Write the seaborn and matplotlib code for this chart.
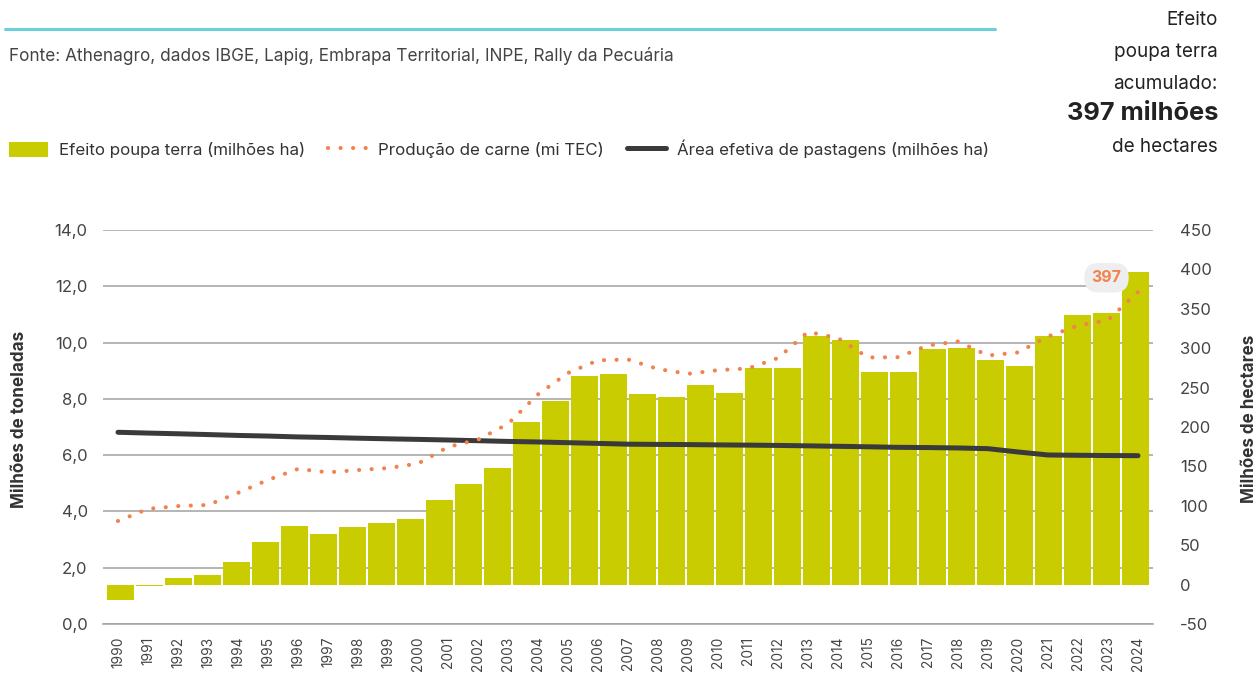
import seaborn as sns
import matplotlib.pyplot as plt
from matplotlib.patches import Patch
from matplotlib.lines import Line2D

# anos do eixo x (linhas)
anos = list(range(1990, 2025))

# producao de carne (mi TEC) - eixo esquerdo
producao_carne = [3.66, 4.09, 4.19, 4.23, 4.66, 5.12, 5.51, 5.39, 5.47, 5.54,
                  5.70, 6.29, 6.55, 7.11, 8.16, 8.92, 9.37, 9.40, 9.06, 8.89,
                  9.02, 9.08, 9.45, 10.38, 10.16, 9.47, 9.48, 9.90, 10.04, 9.54,
                  9.65, 10.22, 10.60, 10.80, 11.80]

# area efetiva de pastagens (milhoes ha) - eixo direito
area_pastagens = [193.3, 192.3, 191.4, 190.4, 189.3, 188.5, 187.4, 186.7, 185.8, 185.0,
                  184.3, 183.5, 182.6, 181.7, 181.0, 180.1, 179.2, 178.2, 177.9, 177.7,
                  177.3, 177.0, 176.6, 176.1, 175.5, 174.9, 174.2, 173.9, 173.4, 172.5,
                  168.3, 164.5, 164.1, 163.8, 163.6]

# efeito poupa terra (milhoes ha) - o original desenha 36 barras
barras_rotulos = [str(a) for a in range(1989, 2025)]
poupa_terra = [-20, -2, 8, 12, 29, 54, 74, 64, 73, 78,
               83, 107, 128, 148, 206, 233, 265, 267, 242, 238,
               253, 243, 275, 275, 316, 310, 270, 270, 299, 300,
               285, 277, 316, 342, 345, 397]

verde = '#C8CC00'
laranja = '#F2824F'
cinza_linha = '#3a3a3a'
texto = '#444444'

sns.set_style('white')
plt.rcParams['font.family'] = ['Inter', 'DejaVu Sans']
plt.rcParams['axes.unicode_minus'] = False

W, H = 1260, 674
fig = plt.figure(figsize=(W / 100, H / 100), dpi=100)


def px(x, y):
    return x / W, 1 - y / H


# eixo base: grade, anos, escala esquerda
ax = fig.add_axes([103 / W, 50 / H, 1050 / W, 394 / H])
ax.set_ylim(0, 14)
ax.set_yticks(range(0, 15, 2))
ax.set_yticklabels([f'{v:.1f}'.replace('.', ',') for v in range(0, 15, 2)])
ax.grid(axis='y', color='#a0a0a0', linewidth=1.1)
ax.grid(axis='x', visible=False)
for s in ['top', 'left', 'right']:
    ax.spines[s].set_visible(False)
ax.spines['bottom'].set_color('#a0a0a0')
ax.spines['bottom'].set_linewidth(1.1)

# barras num eixo proprio (36 barras)
axb = fig.add_axes([106 / W, 50 / H, 1044 / W, 394 / H], facecolor='none')
sns.barplot(x=barras_rotulos, y=poupa_terra, ax=axb, color=verde, saturation=1,
            width=0.95, edgecolor='none', linewidth=0)
axb.set_ylim(-50, 450)
axb.set_xlim(-0.5, len(poupa_terra) - 0.5)
axb.axis('off')

# pastagens - escala direita
axr = ax.twinx()
sns.lineplot(x=anos, y=area_pastagens, ax=axr, color=cinza_linha, linewidth=3.6)
axr.set_ylim(-50, 450)
axr.set_yticks(range(-50, 451, 50))
axr.set_yticklabels([str(v) for v in range(-50, 451, 50)])
axr.set_ylabel('')
for s in axr.spines.values():
    s.set_visible(False)

# producao de carne - escala esquerda, por cima
axm = ax.twinx()
sns.lineplot(x=anos, y=producao_carne, ax=axm, color=laranja, linewidth=3.0,
             linestyle=(0, (0.01, 3.0)), dash_capstyle='round')
axm.set_ylim(0, 14)
axm.set_yticks([])
axm.set_ylabel('')
for s in axm.spines.values():
    s.set_visible(False)

ax.set_xlim(anos[0] - 0.5, anos[-1] + 0.5)
ax.set_xticks(anos)
ax.set_xticklabels([str(a) for a in anos], rotation=90)
ax.set_xticks([a - 0.5 for a in anos] + [anos[-1] + 0.5], minor=True)
ax.tick_params(axis='x', which='major', length=0, pad=9, labelsize=9.9, labelcolor=texto)
ax.tick_params(axis='x', which='minor', length=5, width=1, color='#a0a0a0')
ax.tick_params(axis='y', length=0, pad=11, labelsize=12, labelcolor=texto)
axr.tick_params(axis='y', length=0, pad=19.5, labelsize=12, labelcolor=texto)

# rotulo do total acumulado
axb.annotate(f'{poupa_terra[-1]}', xy=(len(poupa_terra) - 1, poupa_terra[-1]),
             xytext=(-29, -6), textcoords='offset pixels', ha='center', va='center',
             fontsize=11.5, fontweight='bold', color=laranja,
             bbox=dict(boxstyle='round,pad=0.45,rounding_size=0.9', fc='#eeeeee', ec='none'))

# titulos dos eixos
fig.text(*px(20, 419), 'Milhões de toneladas', rotation=90, ha='center', va='center',
         fontsize=12.3, fontweight='bold', color='#333333')
fig.text(*px(1250, 419), 'Milhões de hectares', rotation=90, ha='center', va='center',
         fontsize=12.3, fontweight='bold', color='#333333')

# cabecalho
fig.add_artist(Line2D([5 / W, 995 / W], [1 - 29 / H, 1 - 29 / H], color='#6ccfdb',
                      linewidth=2.2))
fig.text(*px(9, 56), 'Fonte: Athenagro, dados IBGE, Lapig, Embrapa Territorial, INPE, Rally da Pecuária',
         ha='left', va='center', fontsize=12.4, color=texto)

# destaque a direita
for txt, y, fs, fw in [('Efeito', 20, 13.6, 'normal'), ('poupa terra', 52, 13.6, 'normal'),
                       ('acumulado:', 84, 13.6, 'normal'), ('397 milhões', 113, 18.3, 'bold'),
                       ('de hectares', 147, 13.6, 'normal')]:
    fig.text(*px(1218, y), txt, ha='right', va='center', fontsize=fs, fontweight=fw,
             color='#222222')

# legenda
handles = [Patch(facecolor=verde, edgecolor='none'),
           Line2D([], [], color=laranja, linewidth=3.0, linestyle=(0, (0.01, 3.0)),
                  dash_capstyle='round'),
           Line2D([], [], color=cinza_linha, linewidth=3.6)]
labels = ['Efeito poupa terra (milhões ha)', 'Produção de carne (mi TEC)',
          'Área efetiva de pastagens (milhões ha)']
fig.legend(handles, labels, loc='center left', bbox_to_anchor=px(9, 149), ncol=3,
           frameon=False, fontsize=12.2, labelcolor='#333333', handlelength=2.3,
           handleheight=1.05, handletextpad=0.65, columnspacing=1.36, borderpad=0,
           borderaxespad=0)

fig.savefig('out.png', dpi=100)
